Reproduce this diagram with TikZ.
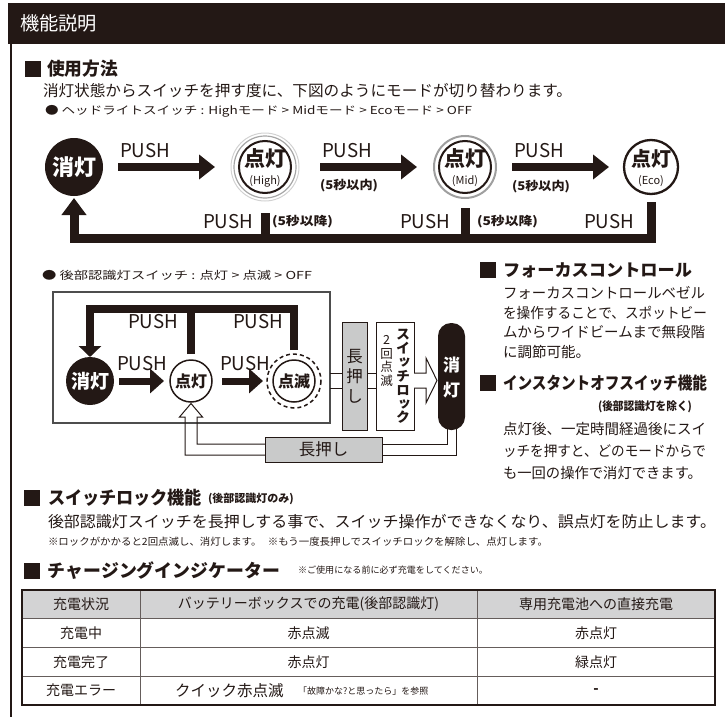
\documentclass[tikz,border=0pt]{standalone}
\usepackage{fontspec}
\usepackage{graphicx}
\setmainfont{Noto Sans CJK JP}
\newfontfamily\vjp[RawFeature=+vert]{Noto Sans CJK JP}
\usetikzlibrary{arrows.meta,calc}
\definecolor{ink}{HTML}{231815}
\definecolor{boxgray}{HTML}{C9CACA}
\definecolor{tblgray}{HTML}{D3D3D4}
\definecolor{framegray}{HTML}{4D4D4D}
\newcommand\fitw[2]{\resizebox{#1}{\height}{#2}}
\newcommand\fs[1]{\fontsize{#1}{#1}\selectfont}
\newcommand\pushw{\fitw{50pt}{\fs{19pt}PUSH}}
\begin{document}
\begin{tikzpicture}[x=1pt,y=-1pt,
  every node/.style={inner sep=0pt,outer sep=0pt,text=ink},
  txt/.style={anchor=west},
  sq/.style={fill=ink,minimum size=16pt,anchor=west},
  fat/.style={line width=8pt,draw=ink,-{Triangle[length=16pt,width=24pt]}},
  fatb/.style={line width=7pt,draw=ink,-{Triangle[length=14pt,width=24pt]}},
  bar/.style={line width=9pt,draw=ink,line join=miter},
  barb/.style={line width=8pt,draw=ink,line join=miter},
  chan/.style={draw=ink,line width=1pt,line join=miter},
  cell/.style={draw=ink!70,line width=0.8pt,minimum height=28.75pt,font=\fs{14pt}}]
\useasboundingbox (0,0) rectangle (725,717);
% frame
\node[fill=ink,minimum width=717pt,minimum height=41pt,anchor=north west] (hdr) at (8,3) {};
\draw[ink,line width=2.5pt] (11,44) -- (11,717);
\node[txt,text=white] (title) at (20,23) {\fitw{77pt}{\fs{19pt}機能説明}};
% section 1
\node[sq] (sq1) at (25,69) {};
\node[txt] (h1) at (47,69) {\fitw{71pt}{\fs{18pt}\bfseries 使用方法}};
\node[txt] (b1) at (43,91) {\fitw{529pt}{\fs{15.5pt}消灯状態からスイッチを押す度に、下図のようにモードが切り替わります。}};
\node[txt] (b2) at (45,111) {\fitw{427pt}{\fs{11pt}● ヘッドライトスイッチ : Highモード > Midモード > Ecoモード > OFF}};
% headlight diagram
\node[circle,fill=ink,minimum size=58pt,text=white] (off1) at (74,167) {\fs{22pt}\bfseries 消灯};
\draw[gray!35,line width=1pt] (265,167) circle[radius=34];
\draw[gray!70,line width=1.2pt] (265,167) circle[radius=31];
\node[circle,draw=ink,line width=2pt,minimum size=52pt] (high) at (265,167) {};
\node (highA) at (265,158) {\fs{21pt}\bfseries 点灯};
\node (highB) at (265,181) {\fs{11pt}(High)};
\draw[gray!75,line width=2pt] (465,167) circle[radius=31];
\node[circle,draw=ink,line width=2pt,minimum size=52pt] (mid) at (465,167) {};
\node (midA) at (465,158) {\fs{21pt}\bfseries 点灯};
\node (midB) at (465,181) {\fs{11pt}(Mid)};
\node[circle,draw=ink,line width=2.3pt,minimum size=54pt] (eco) at (651,167) {};
\node (ecoA) at (651,159) {\fs{20pt}\bfseries 点灯};
\node (ecoB) at (651,181) {\fs{11pt}(Eco)};
\draw[fat,shorten <=15pt,shorten >=24pt] (off1) -- (high);
\draw[fat,shorten <=29pt,shorten >=22pt] (high) -- (mid);
\draw[fat,shorten <=21pt,shorten >=15pt] (mid) -- (eco);
\node[txt] (p1) at (120,151) {\pushw};
\node[txt] (p2) at (322,151) {\pushw};
\node[txt] (p3) at (514,151) {\pushw};
\node[txt] (t1) at (320,186) {\fitw{58pt}{\fs{12pt}\bfseries (5秒以内)}};
\node[txt] (t2) at (512,187) {\fitw{58pt}{\fs{12pt}\bfseries (5秒以内)}};
\coordinate (retY) at (0,238);
\draw[bar,-{Triangle[length=17pt,width=24pt]},shorten <=8pt,shorten >=2pt] (eco.south) -- (eco.south |- retY) -| (off1.south);
\draw[bar,shorten <=20pt] (high.south) -- (high.south |- retY);
\draw[bar,shorten <=15pt] (mid.south) -- (mid.south |- retY);
\node[txt] (rp1) at (203,222) {\pushw};
\node[txt] (rt1) at (272,222) {\fitw{61pt}{\fs{12pt}\bfseries (5秒以降)}};
\node[txt] (rp2) at (400,222) {\pushw};
\node[txt] (rt2) at (477,222) {\fitw{61pt}{\fs{12pt}\bfseries (5秒以降)}};
\node[txt] (rp3) at (584,222) {\pushw};
% rear light diagram
\node[txt] (b3) at (42,275) {\fitw{270pt}{\fs{11pt}● 後部認識灯スイッチ : 点灯 > 点滅 > OFF}};
\node[draw=framegray,line width=1.2pt,minimum width=277pt,minimum height=131pt,anchor=north west] (rbox) at (53,292) {};
\node[circle,fill=ink,minimum size=48pt,text=white] (off2) at (90,381) {\fs{19pt}\bfseries 消灯};
\node[circle,draw=ink,line width=1.5pt,minimum size=42pt] (on2) at (191,381) {\fs{16pt}\bfseries 点灯};
\node[circle,draw=ink,line width=1.5pt,minimum size=42pt] (blk) at (294,381) {\fs{16pt}\bfseries 点滅};
\draw[ink,line width=1.5pt,dash pattern=on 4pt off 3pt] (294,381) circle[radius=27];
\draw[fatb,shorten <=5pt,shorten >=6pt] (off2) -- (on2);
\draw[fatb,shorten <=10pt,shorten >=10pt] (on2) -- (blk);
\coordinate (topY) at (0,309);
\draw[barb,-{Triangle[length=11pt,width=22pt]},shorten <=10pt] (blk.north) -- (blk.north |- topY) -| (off2.north);
\draw[barb,shorten <=6pt] (on2.north) -- (on2.north |- topY);
\node[txt] (rq1) at (128,322) {\pushw};
\node[txt] (rq2) at (233,322) {\pushw};
\node[txt] (rq3) at (117,364) {\pushw};
\node[txt] (rq4) at (220,364) {\pushw};
% lock chain
\node[draw=ink,line width=1pt,fill=boxgray,minimum width=25pt,minimum height=108pt] (lp1) at (354.5,376) {};
\node[align=center,font=\fontsize{16.5pt}{20pt}\selectfont] (lp1t) at (354.5,376) {長\\押\\し};
\node[draw=ink,line width=1pt,fill=white,minimum width=38pt,minimum height=108pt] (lock) at (395,376) {};
\node[align=center,font=\vjp\bfseries\fontsize{14pt}{13.9pt}\selectfont] (lockA) at (403,376.5) {ス\\イ\\ッ\\チ\\ロ\\ッ\\ク};
\node[align=center,font=\fontsize{12.5pt}{13.8pt}\selectfont] (lockB) at (386.5,361) {2\\回\\点\\滅};
\node[fill=ink,rounded corners=13pt,minimum width=27pt,minimum height=107pt] (offp) at (451.5,376.5) {};
\node[align=center,text=white,font=\bfseries\fontsize{17pt}{25pt}\selectfont] (offpt) at (451.5,377.5) {消\\灯};
\coordinate (cU) at (0,373);
\coordinate (cD) at (0,388);
\coordinate (chanY) at (0,380.5);
\draw[chan] (rbox.east |- cU) -- (lp1.west |- cU) (rbox.east |- cD) -- (lp1.west |- cD);
\draw[chan] (lp1.east |- cU) -- (lock.west |- cU) (lp1.east |- cD) -- (lock.west |- cD);
\draw[chan,fill=white] (lock.east |- cU) -- (426,373) -- (426,358) -- ($(offp.west |- chanY)+(-1,0)$) -- (426,403) -- (426,388) -- (lock.east |- cD);
\node[draw=ink,line width=1pt,fill=boxgray,minimum width=117pt,minimum height=25pt] (lp2) at (323.5,449.5) {};
\node (lp2t) at (323.5,449.5) {\fs{16.5pt}長押し};
\coordinate (bU) at (0,444);
\coordinate (bD) at (0,455);
\coordinate (pL) at ($(offp.south)+(-4.5,-2)$);
\coordinate (pR) at ($(offp.south)+(4.5,-2)$);
\draw[chan] (pL) -- (pL |- bU) -- (lp2.east |- bU);
\draw[chan] (pR) -- (pR |- bD) -- (lp2.east |- bD);
\draw[chan] (lp2.west |- bU) -- (197,444) -- (197,417) -- (202.5,417) -- ($(on2.south)+(0,1.5)$) -- (179.5,417) -- (185,417) -- (185,455) -- (lp2.west |- bD);
% right column
\node[sq] (sq2) at (480,270) {};
\node[txt] (h2) at (503,270) {\fitw{189pt}{\fs{17pt}\bfseries フォーカスコントロール}};
\node[txt] (f1) at (503,293) {\fitw{202pt}{\fs{14.5pt}フォーカスコントロールベゼル}};
\node[txt] (f2) at (503,313) {\fitw{204pt}{\fs{14.5pt}を操作することで、スポットビー}};
\node[txt] (f3) at (503,332.5) {\fitw{202pt}{\fs{14.5pt}ムからワイドビームまで無段階}};
\node[txt] (f4) at (503,352) {\fs{14.5pt}に調節可能。};
\node[sq] (sq3) at (480,383) {};
\node[txt] (h3) at (503,383) {\fitw{204pt}{\fs{17pt}\bfseries インスタントオフスイッチ機能}};
\node[anchor=east] (h3n) at (692,407) {\fitw{94pt}{\fs{11.5pt}\bfseries (後部認識灯を除く)}};
\node[txt] (g1) at (503,429) {\fitw{203pt}{\fs{14.5pt}点灯後、一定時間経過後にスイ}};
\node[txt] (g2) at (503,451) {\fitw{203pt}{\fs{14.5pt}ッチを押すと、どのモードからで}};
\node[txt] (g3) at (503,473) {\fitw{199pt}{\fs{14.5pt}も一回の操作で消灯できます。}};
% section switch lock
\node[sq] (sq4) at (24,498) {};
\node[txt] (h4) at (48,498) {\fitw{154pt}{\fs{18pt}\bfseries スイッチロック機能}};
\node[txt] (h4n) at (208,499) {\fs{11pt}\bfseries (後部認識灯のみ)};
\node[txt] (b4) at (48,522) {\fitw{668pt}{\fs{15.5pt}後部認識灯スイッチを長押しする事で、スイッチ操作ができなくなり、誤点灯を防止します。}};
\node[txt] (b5) at (48,542) {\fitw{500pt}{\fs{10pt}※ロックがかかると2回点滅し、消灯します。\hspace{6pt}※もう一度長押しでスイッチロックを解除し、点灯します。}};
% charging indicator
\node[sq] (sq5) at (24,571) {};
\node[txt] (h5) at (48,571) {\fitw{232pt}{\fs{18pt}\bfseries チャージングインジケーター}};
\node[txt] (h5n) at (298,570) {\fitw{190pt}{\fs{9pt}※ご使用になる前に必ず充電をしてください。}};
% table
\node[cell,fill=tblgray,minimum width=118pt] (c11) at (81,604.375) {充電状況};
\node[cell,fill=tblgray,minimum width=337pt] (c12) at (308.5,604.375) {バッテリーボックスでの充電(後部認識灯)};
\node[cell,fill=tblgray,minimum width=238pt] (c13) at (596,604.375) {専用充電池への直接充電};
\node[cell,minimum width=118pt] (c21) at (81,633.125) {充電中};
\node[cell,minimum width=337pt] (c22) at (308.5,633.125) {赤点滅};
\node[cell,minimum width=238pt] (c23) at (596,633.125) {赤点灯};
\node[cell,minimum width=118pt] (c31) at (81,661.875) {充電完了};
\node[cell,minimum width=337pt] (c32) at (308.5,661.875) {赤点灯};
\node[cell,minimum width=238pt] (c33) at (596,661.875) {緑点灯};
\node[cell,minimum width=118pt] (c41) at (81,690.625) {充電エラー};
\node[cell,minimum width=337pt] (c42) at (308.5,690.625) {};
\node[cell,minimum width=238pt] (c43) at (596,690.625) {\bfseries -};
\node[txt] (c42a) at (175,690.6) {\fs{15.5pt}クイック赤点滅};
\node[txt] (c42b) at (298,691) {\fs{9pt}「故障かな?と思ったら」を参照};
\draw[ink,line width=2pt] (c11.north west) rectangle (c43.south east);
\end{tikzpicture}
\end{document}
